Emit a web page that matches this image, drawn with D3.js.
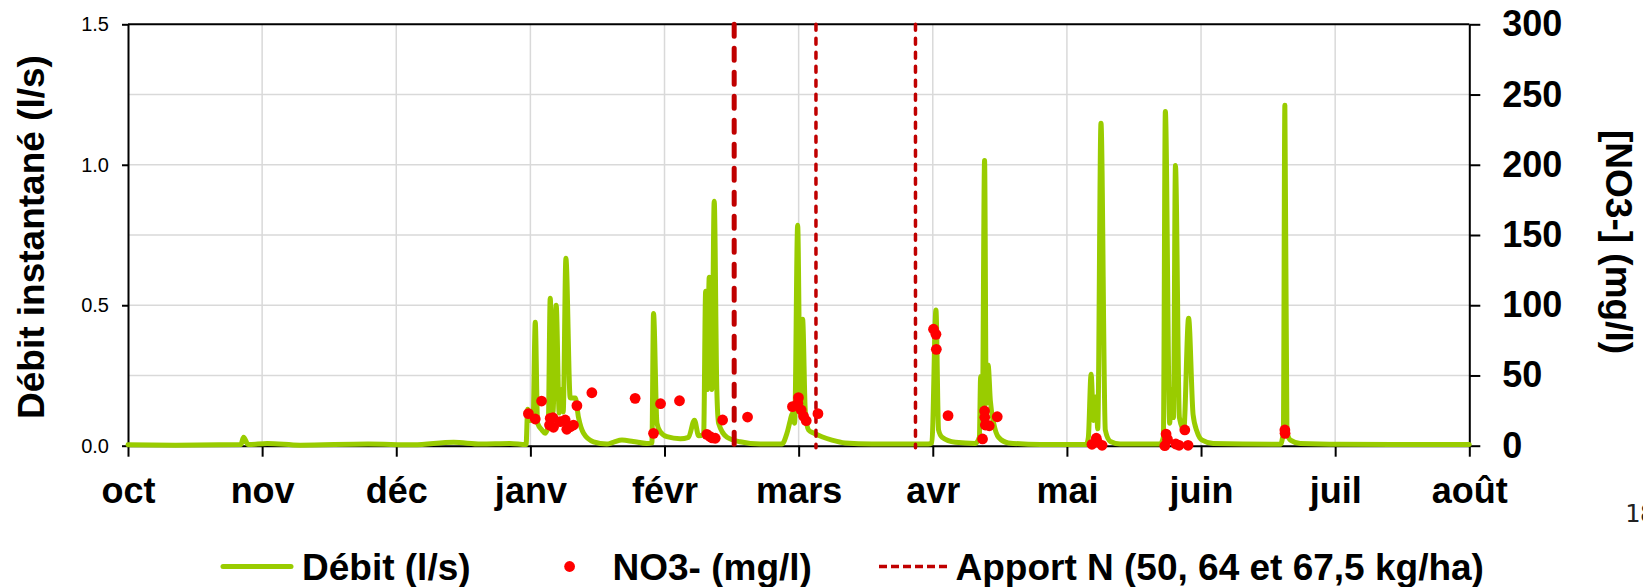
<!DOCTYPE html>
<html>
<head>
<meta charset="utf-8">
<script src="https://cdn.jsdelivr.net/npm/d3@7/dist/d3.min.js"></script>
<style>
  html, body { margin: 0; padding: 0; background: #ffffff; }
  svg text { font-family: "Liberation Sans", Arial, Helvetica, sans-serif; }
</style>
</head>
<body>
<svg id="chart" width="1643" height="587"></svg>
<script>
// Month ticks of the x axis (one tick per month start)
var monthStarts = ["2010-10-01", "2010-11-01", "2010-12-01", "2011-01-01", "2011-02-01",
  "2011-03-01", "2011-04-01", "2011-05-01", "2011-06-01", "2011-07-01", "2011-08-01"];
var monthLabels = ["oct", "nov", "déc", "janv", "févr", "mars", "avr", "mai", "juin", "juil", "août"];

// Axis ticks
var leftTicks = [0, 0.5, 1.0, 1.5];
var rightTicks = [0, 50, 100, 150, 200, 250, 300];
var gridValues = [0.25, 0.5, 0.75, 1.0, 1.25];

// Débit instantané (l/s)
var flowDates = [
  "2010-10-01 00:00", "2010-10-12 00:00", "2010-10-27 02:00", "2010-10-27 17:00", "2010-10-28 19:00",
  "2010-11-02 03:00", "2010-11-09 12:00", "2010-11-24 17:00", "2010-12-05 00:00", "2010-12-14 07:00",
  "2010-12-20 12:00", "2010-12-27 06:00", "2010-12-31 00:00", "2010-12-31 09:00", "2010-12-31 23:00",
  "2011-01-01 15:00", "2011-01-02 03:00", "2011-01-02 16:00", "2011-01-03 16:00", "2011-01-04 10:00",
  "2011-01-05 03:00", "2011-01-05 14:00", "2011-01-06 05:00", "2011-01-06 23:00", "2011-01-07 16:00",
  "2011-01-08 03:00", "2011-01-08 14:00", "2011-01-09 05:00", "2011-01-10 05:00", "2011-01-11 09:00",
  "2011-01-12 03:00", "2011-01-13 07:00", "2011-01-15 14:00", "2011-01-18 16:00", "2011-01-20 03:00",
  "2011-01-22 04:00", "2011-01-24 18:00", "2011-01-27 22:00", "2011-01-29 02:00", "2011-01-29 11:00",
  "2011-01-30 06:00", "2011-01-31 00:00", "2011-02-01 12:00", "2011-02-04 07:00", "2011-02-06 00:00",
  "2011-02-07 06:00", "2011-02-08 03:00", "2011-02-09 04:00", "2011-02-09 14:00", "2011-02-09 22:00",
  "2011-02-10 08:00", "2011-02-10 21:00", "2011-02-11 09:00", "2011-02-11 22:00", "2011-02-12 07:00",
  "2011-02-14 01:00", "2011-02-16 19:00", "2011-02-21 00:00", "2011-02-25 12:00", "2011-02-26 13:00",
  "2011-02-27 06:00", "2011-02-27 16:00", "2011-02-28 04:00", "2011-02-28 19:00", "2011-03-01 09:00",
  "2011-03-01 22:00", "2011-03-02 13:00", "2011-03-03 07:00", "2011-03-04 11:00", "2011-03-06 09:00",
  "2011-03-08 17:00", "2011-03-11 18:00", "2011-03-17 22:00", "2011-03-30 23:00", "2011-03-31 19:00",
  "2011-04-01 17:00", "2011-04-02 07:00", "2011-04-03 02:00", "2011-04-06 01:00", "2011-04-10 12:00",
  "2011-04-11 10:00", "2011-04-11 17:00", "2011-04-12 02:00", "2011-04-12 14:00", "2011-04-12 23:00",
  "2011-04-13 09:00", "2011-04-13 21:00", "2011-04-14 15:00", "2011-04-15 17:00", "2011-04-17 22:00",
  "2011-04-25 02:00", "2011-05-05 12:00", "2011-05-05 23:00", "2011-05-06 14:00", "2011-05-07 04:00",
  "2011-05-07 18:00", "2011-05-08 03:00", "2011-05-08 21:00", "2011-05-09 21:00", "2011-05-11 01:00",
  "2011-05-13 08:00", "2011-05-22 14:00", "2011-05-23 07:00", "2011-05-23 18:00", "2011-05-24 18:00",
  "2011-05-25 03:00", "2011-05-25 15:00", "2011-05-26 02:00", "2011-05-27 00:00", "2011-05-28 00:00",
  "2011-05-29 03:00", "2011-05-30 04:00", "2011-05-31 02:00", "2011-06-01 06:00", "2011-06-03 18:00",
  "2011-06-18 18:00", "2011-06-19 10:00", "2011-06-19 18:00", "2011-06-20 05:00", "2011-06-21 00:00",
  "2011-06-23 05:00", "2011-07-02 05:00", "2011-08-01 00:00"];
var flowValues = [
  0.003, 0.002, 0.004, 0.03, 0.004,
  0.008, 0.002, 0.006, 0.003, 0.012,
  0.006, 0.008, 0.004, 0.13, 0.09,
  0.10, 0.439, 0.08, 0.056, 0.044,
  0.07, 0.525, 0.12, 0.50, 0.116,
  0.20, 0.12, 0.667, 0.17, 0.17,
  0.10, 0.044, 0.014, 0.006, 0.012,
  0.02, 0.015, 0.008, 0.01, 0.471,
  0.08, 0.05, 0.032, 0.025, 0.03,
  0.091, 0.035, 0.04, 0.55, 0.20,
  0.60, 0.20, 0.87, 0.20, 0.08,
  0.03, 0.014, 0.006, 0.006, 0.043,
  0.09, 0.115, 0.08, 0.785, 0.15,
  0.45, 0.12, 0.056, 0.045, 0.032,
  0.02, 0.01, 0.006, 0.006, 0.01,
  0.483, 0.056, 0.03, 0.012, 0.008,
  0.03, 0.246, 0.10, 1.015, 0.15,
  0.287, 0.16, 0.08, 0.03, 0.01,
  0.004, 0.004, 0.03, 0.254, 0.09,
  0.174, 0.06, 1.148, 0.056, 0.015,
  0.006, 0.006, 0.03, 1.19, 0.08,
  0.20, 0.10, 0.997, 0.10, 0.056,
  0.454, 0.11, 0.05, 0.02, 0.008,
  0.005, 0.05, 1.212, 0.05, 0.02,
  0.008, 0.005, 0.004];

// NO3- (mg/l)
var no3Dates = [
  "2010-12-31 13:00", "2011-01-02 03:00", "2011-01-03 14:00", "2011-01-05 10:00", "2011-01-05 14:00",
  "2011-01-06 05:00", "2011-01-06 08:00", "2011-01-07 21:00", "2011-01-09 01:00", "2011-01-09 10:00",
  "2011-01-10 05:00", "2011-01-10 23:00", "2011-01-11 18:00", "2011-01-15 05:00", "2011-01-25 05:00",
  "2011-01-29 11:00", "2011-01-31 02:00", "2011-02-04 03:00", "2011-02-09 20:00", "2011-02-10 13:00",
  "2011-02-10 23:00", "2011-02-11 14:00", "2011-02-13 03:00", "2011-02-18 08:00", "2011-02-27 17:00",
  "2011-02-28 20:00", "2011-02-28 23:00", "2011-03-01 14:00", "2011-03-02 03:00", "2011-03-02 18:00",
  "2011-03-05 11:00", "2011-04-01 04:00", "2011-04-01 17:00", "2011-04-01 19:00", "2011-04-04 10:00",
  "2011-04-12 03:00", "2011-04-12 14:00", "2011-04-12 15:00", "2011-04-12 18:00", "2011-04-13 15:00",
  "2011-04-15 10:00", "2011-05-06 19:00", "2011-05-07 19:00", "2011-05-08 01:00", "2011-05-09 03:00",
  "2011-05-23 15:00", "2011-05-23 22:00", "2011-05-24 06:00", "2011-05-26 04:00", "2011-05-26 22:00",
  "2011-05-28 06:00", "2011-05-29 00:00", "2011-06-19 18:00", "2011-06-19 19:00"];
var no3Values = [
  22.8, 19.0, 31.8, 14.7, 19.5,
  19.9, 13.1, 17.1, 18.3, 11.7,
  13.5, 14.7, 28.5, 37.7, 33.7,
  8.8, 29.9, 32.0, 8.1, 6.4,
  5.5, 5.3, 18.3, 20.4, 27.8,
  30.2, 34.2, 25.4, 21.1, 17.8,
  22.8, 82.9, 79.3, 68.6, 21.4,
  4.8, 24.7, 20.2, 14.7, 14.2,
  20.6, 1.0, 5.3, 2.5, 0.3,
  0.0, 8.3, 4.5, 1.2, 0.3,
  11.2, 0.3, 11.2, 8.8];

// Apport N dates (50, 64 et 67,5 kg/ha)
var apportDates = ["2011-02-15 13:00", "2011-03-05 00:00", "2011-03-28 00:00"];

// Texts
var legendLabels = ["Débit (l/s)", "NO3- (mg/l)", "Apport N (50, 64 et 67,5 kg/ha)"];
var leftTitle = "Débit instantané (l/s)";
var rightTitle = "[NO3-] (mg/l)";
var pageNumber = "18";


var chart = (function (d3) {
  "use strict";

  // Layout of the plot area
  var loc_svg = "#chart",
      loc_left = 128,
      loc_right = 1469.3,
      loc_top = 24.3,
      loc_bottom = 445.7,
      loc_green = "#99cc00",
      loc_red = "#ff0000",
      loc_dark = "#c00000",
      loc_grid = "#d9d9d9";

  // Private methods specification
  var private_methods = {
    errMsg: function (sMsg, ex) {
      console.log("Error in [" + sMsg + "] " + ex.message);
    },
    parseDay: d3.timeParse("%Y-%m-%d"),
    parseTime: d3.timeParse("%Y-%m-%d %H:%M"),

    /**
     * styleAxis - black axis lines, bold text
     */
    styleAxis: function (g, iSize, sWeight) {
      g.select(".domain").attr("stroke", "#000").attr("stroke-width", 2);
      g.selectAll(".tick line").attr("stroke", "#000").attr("stroke-width", 2);
      g.selectAll(".tick text")
        .attr("fill", "#000")
        .style("font-size", iSize + "px")
        .style("font-weight", sWeight);
    }
  };

  // Public methods
  return {
    draw: function () {
      var svg = null,
          x = null,
          yL = null,
          yR = null,
          months = [],
          flow = [],
          no3 = [],
          line = null,
          gLegend = null;

      try {
        svg = d3.select(loc_svg);
        months = monthStarts.map(private_methods.parseDay);

        // Month ticks are equally spaced in the original chart
        x = d3.scaleTime()
          .domain(months)
          .range(months.map(function (d, i) {
            return loc_left + i * (loc_right - loc_left) / (months.length - 1);
          }));
        yL = d3.scaleLinear().domain([0, 1.5]).range([loc_bottom, loc_top]);
        yR = d3.scaleLinear().domain([0, 300]).range([loc_bottom, loc_top]);

        flow = flowDates.map(function (d, i) {
          return { date: private_methods.parseTime(d), value: flowValues[i] };
        });
        no3 = no3Dates.map(function (d, i) {
          return { date: private_methods.parseTime(d), value: no3Values[i] };
        });

        // Grid lines
        svg.append("g").selectAll("line.h")
          .data(gridValues)
          .enter().append("line")
          .attr("x1", loc_left).attr("x2", loc_right)
          .attr("y1", function (d) { return yL(d); })
          .attr("y2", function (d) { return yL(d); })
          .attr("stroke", loc_grid).attr("stroke-width", 1.5);
        svg.append("g").selectAll("line.v")
          .data(months.slice(1, months.length - 1))
          .enter().append("line")
          .attr("x1", function (d) { return x(d); })
          .attr("x2", function (d) { return x(d); })
          .attr("y1", loc_top).attr("y2", loc_bottom)
          .attr("stroke", loc_grid).attr("stroke-width", 1.5);

        // Top border
        svg.append("line")
          .attr("x1", loc_left).attr("x2", loc_right)
          .attr("y1", loc_top).attr("y2", loc_top)
          .attr("stroke", "#000").attr("stroke-width", 2);

        // Axes
        svg.append("g")
          .attr("transform", "translate(" + loc_left + ",0)")
          .call(d3.axisLeft(yL).tickValues(leftTicks).tickSize(6).tickSizeOuter(0)
            .tickPadding(13).tickFormat(d3.format(".1f")))
          .call(private_methods.styleAxis, 20, "normal");

        svg.append("g")
          .attr("transform", "translate(" + loc_right + ",0)")
          .call(d3.axisRight(yR).tickValues(rightTicks).tickSize(11).tickSizeOuter(0)
            .tickPadding(22).tickFormat(d3.format("d")))
          .call(private_methods.styleAxis, 36, "bold");

        svg.append("g")
          .attr("transform", "translate(0," + loc_bottom + ")")
          .call(d3.axisBottom(x).tickValues(months).tickSize(11).tickSizeOuter(0)
            .tickPadding(21).tickFormat(function (d, i) { return monthLabels[i]; }))
          .call(private_methods.styleAxis, 36, "bold");

        // Flow line
        line = d3.line()
          .x(function (d) { return x(d.date); })
          .y(function (d) { return yL(d.value); })
          .curve(d3.curveMonotoneX);
        svg.append("path")
          .datum(flow)
          .attr("d", line)
          .attr("fill", "none")
          .attr("stroke", loc_green)
          .attr("stroke-width", 5)
          .attr("stroke-linejoin", "round")
          .attr("stroke-linecap", "round");

        // Apport N lines (the first one is drawn heavier)
        svg.append("g").selectAll("line")
          .data(apportDates.map(private_methods.parseTime))
          .enter().append("line")
          .attr("x1", function (d) { return x(d); })
          .attr("x2", function (d) { return x(d); })
          .attr("y1", loc_top).attr("y2", loc_bottom + 2)
          .attr("stroke", loc_dark)
          .attr("stroke-width", function (d, i) { return i === 0 ? 5 : 3.5; })
          .attr("stroke-dasharray", function (d, i) { return i === 0 ? "12,12" : "6,8"; })
          .attr("stroke-linecap", "round");

        // NO3 dots
        svg.append("g").selectAll("circle")
          .data(no3)
          .enter().append("circle")
          .attr("cx", function (d) { return x(d.date); })
          .attr("cy", function (d) { return yR(d.value); })
          .attr("r", 5.4)
          .attr("fill", loc_red);

        // Axis titles
        svg.append("text")
          .attr("transform", "translate(44," + ((loc_top + loc_bottom) / 2 + 2) + ") rotate(-90)")
          .attr("text-anchor", "middle")
          .style("font-size", "37px").style("font-weight", "bold")
          .text(leftTitle);
        svg.append("text")
          .attr("transform", "translate(1606," + ((loc_top + loc_bottom) / 2 + 7) + ") rotate(90)")
          .attr("text-anchor", "middle")
          .style("font-size", "37px").style("font-weight", "bold")
          .text(rightTitle);

        // Legend
        gLegend = svg.append("g");
        gLegend.append("line")
          .attr("x1", 223).attr("x2", 291).attr("y1", 566.5).attr("y2", 566.5)
          .attr("stroke", loc_green).attr("stroke-width", 5).attr("stroke-linecap", "round");
        gLegend.append("circle")
          .attr("cx", 569.6).attr("cy", 566.5).attr("r", 5.4).attr("fill", loc_red);
        gLegend.append("line")
          .attr("x1", 879).attr("x2", 948).attr("y1", 566.5).attr("y2", 566.5)
          .attr("stroke", loc_dark).attr("stroke-width", 3.5).attr("stroke-dasharray", "8,4");
        gLegend.selectAll("text")
          .data(legendLabels)
          .enter().append("text")
          .attr("x", function (d, i) { return [302, 612.5, 955.5][i]; })
          .attr("y", 579.5)
          .style("font-size", "37px").style("font-weight", "bold")
          .text(function (d) { return d; });

        // Page number, cut by the right edge as in the source page
        svg.append("text")
          .attr("x", 1625).attr("y", 521.7)
          .style("font-family", "'DejaVu Sans Mono', monospace")
          .style("font-size", "25px")
          .attr("fill", "#222")
          .text(pageNumber);
      } catch (ex) {
        private_methods.errMsg("draw", ex);
      }
    }
  };
}(d3));

chart.draw();
</script>
</body>
</html>
